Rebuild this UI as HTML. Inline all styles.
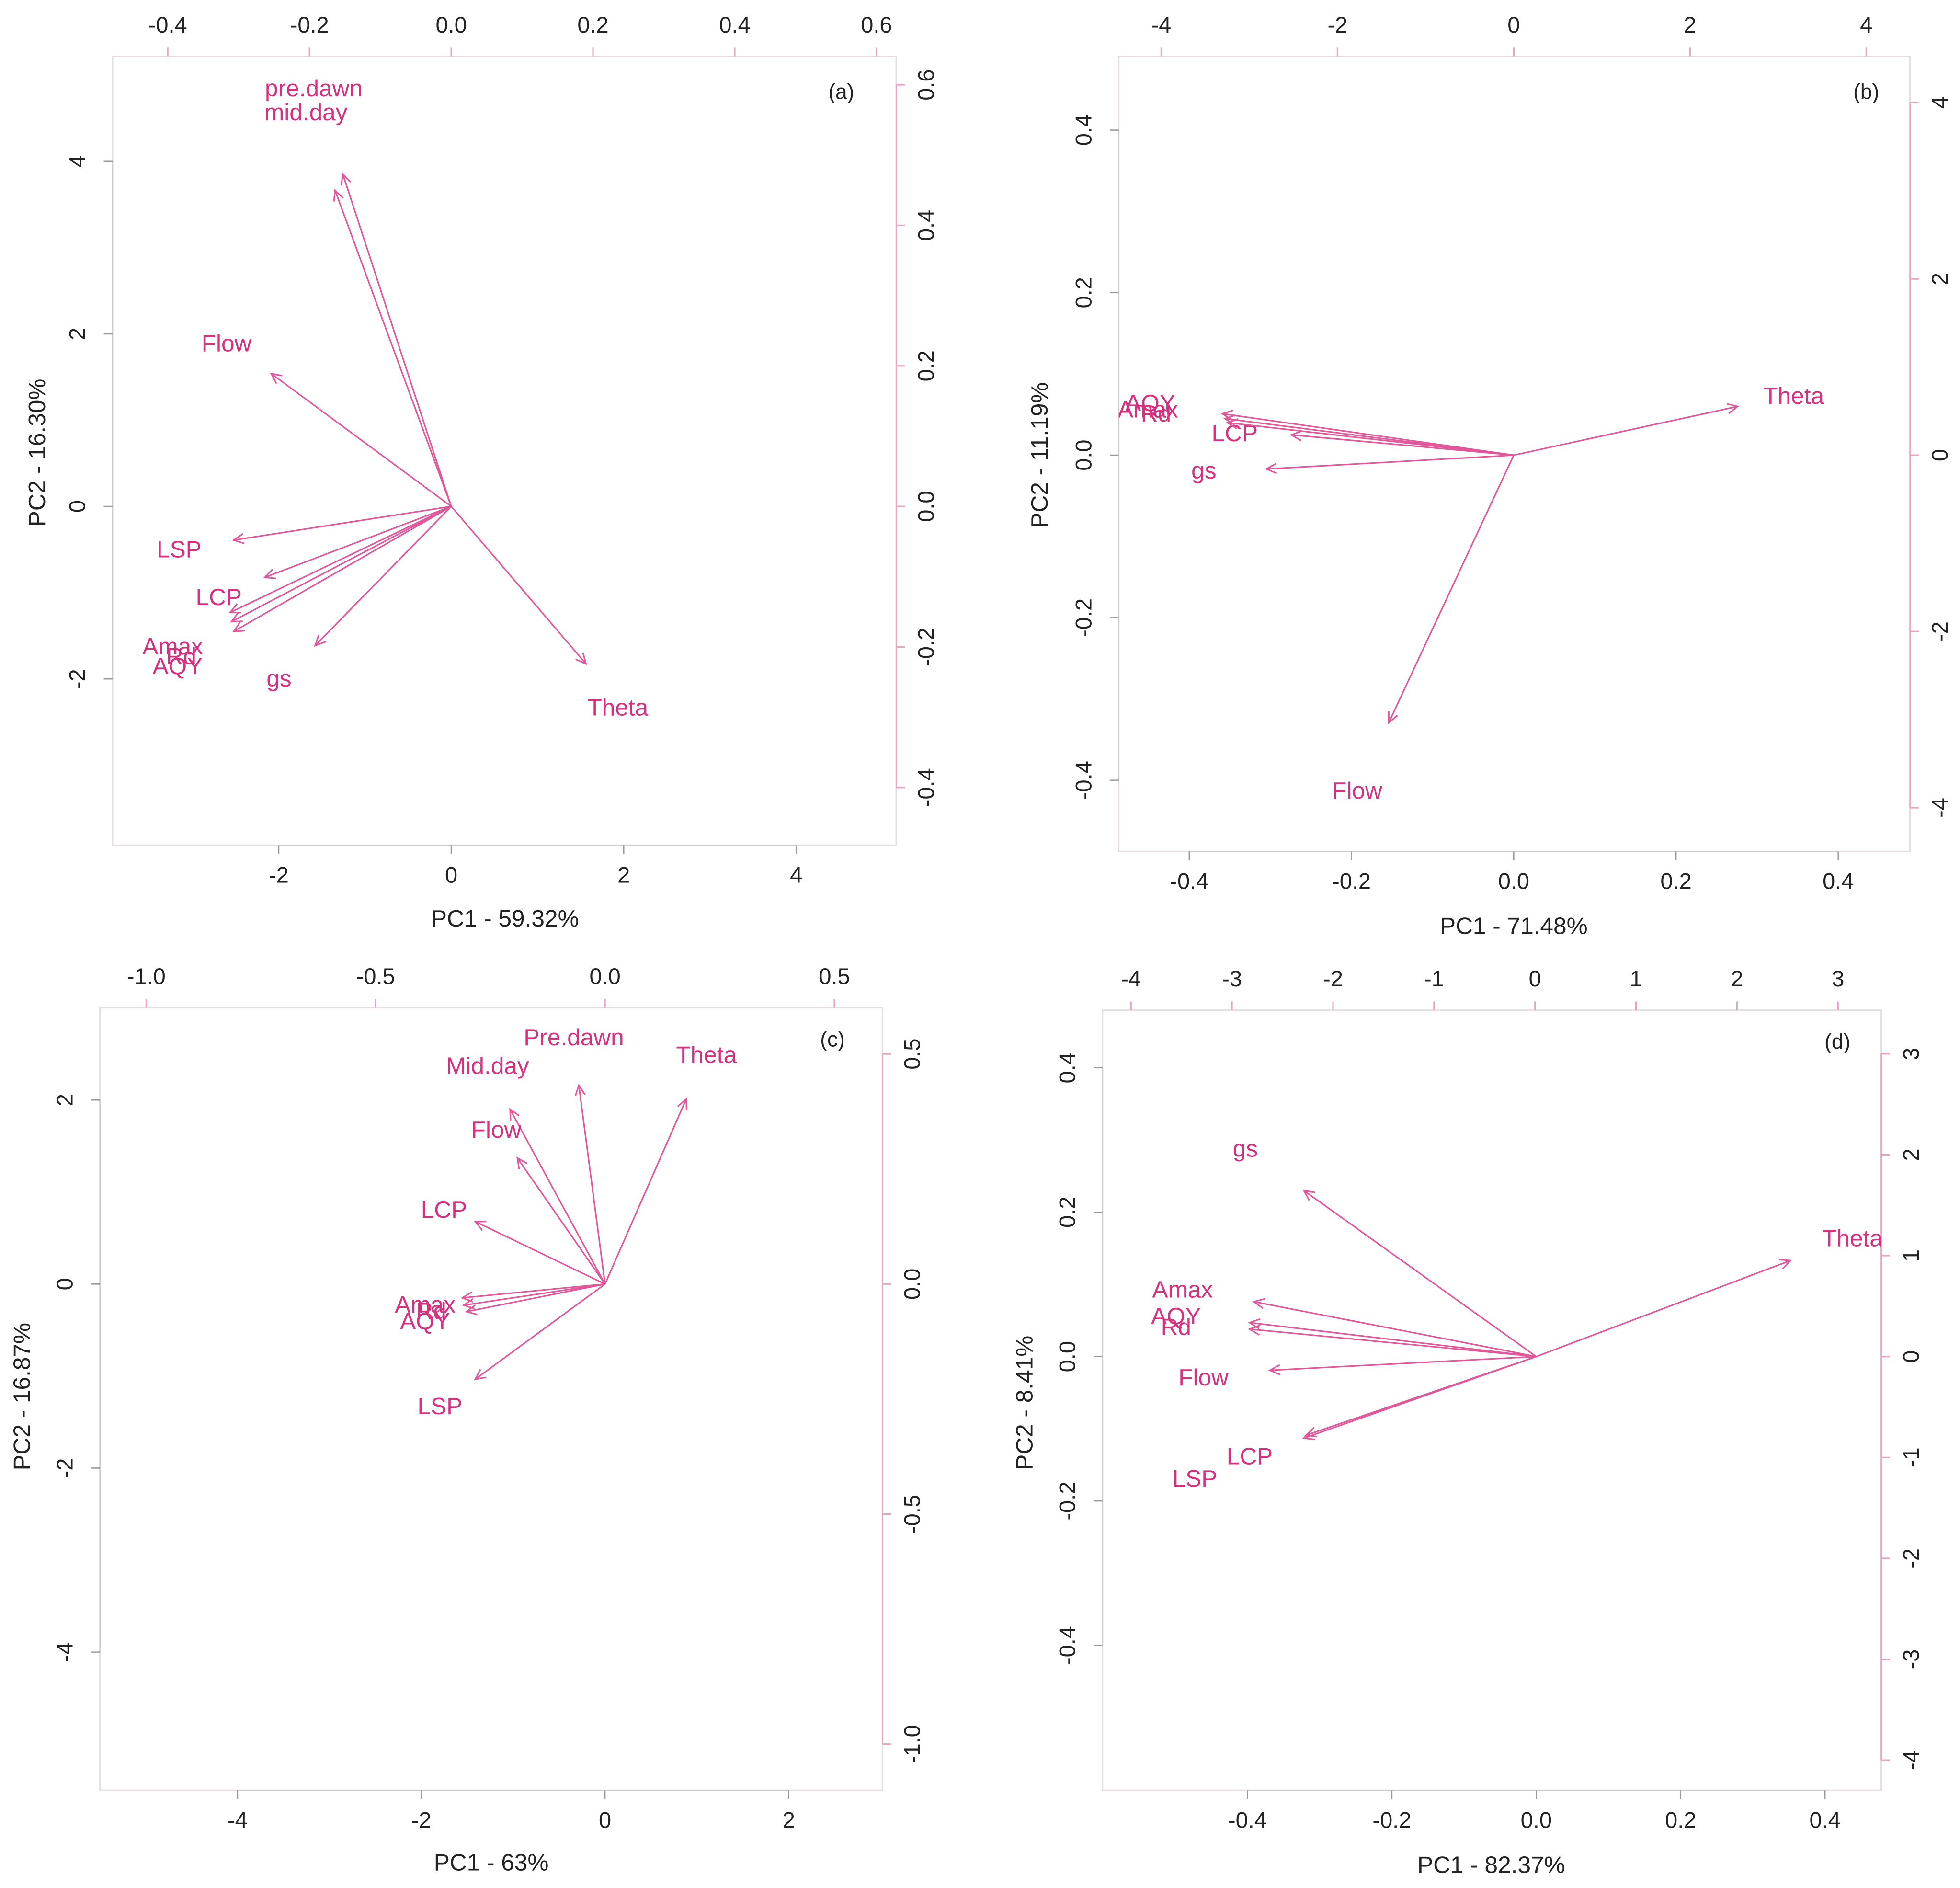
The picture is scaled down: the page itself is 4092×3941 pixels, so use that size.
<!DOCTYPE html>
<html><head><meta charset="utf-8"><style>
html,body{margin:0;padding:0;background:#fff}
svg{display:block}
text{font-family:"Liberation Sans",sans-serif}
</style></head><body>
<svg id="chart" xmlns="http://www.w3.org/2000/svg" width="4092" height="3941" viewBox="0 0 1568 1510"></svg>
<script>
// ---- data ----
const aNames=["pre.dawn","mid.day","Flow","LSP","LCP","Amax","Rd","AQY","gs","Theta"];
const aX=[-0.153,-0.164,-0.254,-0.307,-0.263,-0.312,-0.310,-0.307,-0.192,0.190];
const aY=[0.473,0.450,0.189,-0.048,-0.101,-0.151,-0.164,-0.178,-0.198,-0.224];
const aLabX=[-0.194,-0.205,-0.317,-0.384,-0.328,-0.393,-0.381,-0.386,-0.243,0.235];
const aLabY=[0.596,0.562,0.233,-0.060,-0.128,-0.198,-0.212,-0.226,-0.244,-0.285];
const bNames=["Theta","Flow","gs","LCP","AQY","Rd","Amax"];
const bX=[0.276,-0.154,-0.305,-0.274,-0.359,-0.356,-0.353];
const bY=[0.060,-0.329,-0.017,0.025,0.051,0.045,0.040];
const bLabX=[0.345,-0.193,-0.382,-0.344,-0.448,-0.441,-0.451];
const bLabY=[0.074,-0.412,-0.018,0.028,0.065,0.052,0.057];
const cNames=["Theta","Pre.dawn","Mid.day","Flow","LCP","Amax","Rd","AQY","LSP"];
const cX=[0.177,-0.057,-0.207,-0.191,-0.283,-0.311,-0.308,-0.302,-0.283];
const cY=[0.402,0.432,0.380,0.274,0.136,-0.030,-0.046,-0.060,-0.207];
const cLabX=[0.221,-0.068,-0.256,-0.237,-0.351,-0.392,-0.379,-0.392,-0.360];
const cLabY=[0.500,0.538,0.476,0.337,0.163,-0.043,-0.057,-0.079,-0.264];
const dNames=["gs","Theta","Amax","AQY","Rd","Flow","LCP","LSP"];
const dX=[-0.322,0.352,-0.391,-0.397,-0.397,-0.369,-0.319,-0.322];
const dY=[0.230,0.133,0.076,0.047,0.038,-0.019,-0.109,-0.113];
const dLabX=[-0.403,0.438,-0.490,-0.499,-0.499,-0.461,-0.397,-0.473];
const dLabY=[0.289,0.165,0.094,0.057,0.042,-0.028,-0.137,-0.168];
const aBottomTicks=[-2,0,2,4], aLeftTicks=[-2,0,2,4], aTopTicks=[-0.4,-0.2,0.0,0.2,0.4,0.6], aRightTicks=[-0.4,-0.2,0.0,0.2,0.4,0.6];
const bBottomTicks=[-0.4,-0.2,0.0,0.2,0.4], bLeftTicks=[-0.4,-0.2,0.0,0.2,0.4], bTopTicks=[-4,-2,0,2,4], bRightTicks=[-4,-2,0,2,4];
const cBottomTicks=[-4,-2,0,2], cLeftTicks=[-4,-2,0,2], cTopTicks=[-1.0,-0.5,0.0,0.5], cRightTicks=[-1.0,-0.5,0.0,0.5];
const dBottomTicks=[-0.4,-0.2,0.0,0.2,0.4], dLeftTicks=[-0.4,-0.2,0.0,0.2,0.4], dTopTicks=[-4,-3,-2,-1,0,1,2,3], dRightTicks=[-4,-3,-2,-1,0,1,2,3];

const NS="http://www.w3.org/2000/svg";
const svg=document.getElementById('chart');
const PINK="#d6307f", ARR="#e0579a", BOX="#e6dde1", TICKP="#e8a3c4";
function mk(t,at,parent){const e=document.createElementNS(NS,t);for(const k in at)e.setAttribute(k,at[k]);(parent||svg).appendChild(e);return e;}
function fmt(v,dec){return v.toFixed(dec);}

const panels=[
 {id:'a',box:[90,45,717,676],bx:[361,69],ly:[405,69],tx:[361,567],ry:[405,562],arrowUnits:'tr',
  names:aNames,X:aX,Y:aY,LX:aLabX,LY:aLabY,bt:aBottomTicks,lt:aLeftTicks,tt:aTopTicks,rt:aRightTicks,bd:0,ld:0,td:1,rd:1,
  xl:"PC1 - 59.32%",yl:"PC2 - 16.30%",xlp:[404,735],ylp:[30,362],tag:"(a)",tagp:[673,73]},
 {id:'b',box:[895,45,1528,681],bx:[1211,649],ly:[364,650],tx:[1211,70.5],ry:[364,70.5],arrowUnits:'bl',
  names:bNames,X:bX,Y:bY,LX:bLabX,LY:bLabY,bt:bBottomTicks,lt:bLeftTicks,tt:bTopTicks,rt:bRightTicks,bd:1,ld:1,td:0,rd:0,
  xl:"PC1 - 71.48%",yl:"PC2 - 11.19%",xlp:[1211,741],ylp:[832,364],tag:"(b)",tagp:[1493,73]},
 {id:'c',box:[80,806,706,1432],bx:[484,73.5],ly:[1027,73.6],tx:[484,367],ry:[1027,368],arrowUnits:'tr',
  names:cNames,X:cX,Y:cY,LX:cLabX,LY:cLabY,bt:cBottomTicks,lt:cLeftTicks,tt:cTopTicks,rt:cRightTicks,bd:0,ld:0,td:1,rd:1,
  xl:"PC1 - 63%",yl:"PC2 - 16.87%",xlp:[393,1490],ylp:[18,1117],tag:"(c)",tagp:[666,831]},
 {id:'d',box:[882,808,1505,1432],bx:[1229,577.5],ly:[1085,577.5],tx:[1228,80.8],ry:[1085,80.7],arrowUnits:'bl',
  names:dNames,X:dX,Y:dY,LX:dLabX,LY:dLabY,bt:dBottomTicks,lt:dLeftTicks,tt:dTopTicks,rt:dRightTicks,bd:1,ld:1,td:0,rd:0,
  xl:"PC1 - 82.37%",yl:"PC2 - 8.41%",xlp:[1193,1492],ylp:[820,1122],tag:"(d)",tagp:[1470,833]}
];

panels.forEach(p=>{
  const g=mk('g',{});
  
  
  const [x0,y0,x1,y1]=p.box;
  const bxs=v=>p.bx[0]+v*p.bx[1], lys=v=>p.ly[0]-v*p.ly[1];
  const txs=v=>p.tx[0]+v*p.tx[1], rys=v=>p.ry[0]-v*p.ry[1];
  const cp=mk('clipPath',{id:'clip'+p.id},g); mk('rect',{x:x0,y:y0,width:x1-x0,height:y1-y0},cp);
  const box=mk('rect',{x:x0,y:y0,width:x1-x0,height:y1-y0,fill:'none',stroke:BOX,'stroke-width':1.2},g);
  
  
  // bottom axis
  const ba=mk('g',{},g);
  
  
  mk('line',{x1:bxs(p.bt[0]),x2:bxs(p.bt[p.bt.length-1]),y1:y1,y2:y1,stroke:'#ccc','stroke-width':1},ba);
  p.bt.forEach(v=>{const x=bxs(v);mk('line',{x1:x,x2:x,y1:y1,y2:y1+7,stroke:'#999'},ba);
    const t=mk('text',{x:x,y:y1+30,'text-anchor':'middle','font-size':18,fill:'#222'},ba);t.textContent=fmt(v,p.bd);});
  // left axis
  const la=mk('g',{},g);
  
  
  mk('line',{x1:x0,x2:x0,y1:lys(p.lt[0]),y2:lys(p.lt[p.lt.length-1]),stroke:'#ccc'},la);
  p.lt.forEach(v=>{const y=lys(v);mk('line',{x1:x0-7,x2:x0,y1:y,y2:y,stroke:'#999'},la);
    const t=mk('text',{x:0,y:0,transform:`translate(${x0-22},${y}) rotate(-90)`,'text-anchor':'middle','font-size':18,fill:'#222'},la);t.textContent=fmt(v,p.ld);});
  // top axis
  const ta=mk('g',{},g);
  
  
  p.tt.forEach(v=>{const x=txs(v);mk('line',{x1:x,x2:x,y1:y0,y2:y0-7,stroke:TICKP,'stroke-width':1.2},ta);
    const t=mk('text',{x:x,y:y0-19,'text-anchor':'middle','font-size':18,fill:'#222'},ta);t.textContent=fmt(v,p.td);});
  // right axis
  const ra=mk('g',{},g);
  
  
  mk('line',{x1:x1,x2:x1,y1:rys(p.rt[0]),y2:rys(p.rt[p.rt.length-1]),stroke:TICKP},ra);
  p.rt.forEach(v=>{const y=rys(v);mk('line',{x1:x1,x2:x1+7,y1:y,y2:y,stroke:TICKP,'stroke-width':1.2},ra);
    const t=mk('text',{x:0,y:0,transform:`translate(${x1+30},${y}) rotate(-90)`,'text-anchor':'middle','font-size':18,fill:'#222'},ra);t.textContent=fmt(v,p.rd);});
  // axis titles
  const xt=mk('text',{x:p.xlp[0],y:p.xlp[1]+6,'text-anchor':'middle','font-size':19,fill:'#222'},g);xt.textContent=p.xl;
  
  
  const yt=mk('text',{x:0,y:0,transform:`translate(${p.ylp[0]+6},${p.ylp[1]}) rotate(-90)`,'text-anchor':'middle','font-size':19,fill:'#222'},g);yt.textContent=p.yl;
  
  
  const tg=mk('text',{x:p.tagp[0],y:p.tagp[1]+6,'text-anchor':'middle','font-size':17,fill:'#222'},g);tg.textContent=p.tag;
  
  
  // arrows
  const ax=p.arrowUnits==='tr'?txs:bxs, ay=p.arrowUnits==='tr'?rys:lys;
  const ox=ax(0), oy=ay(0);
  const ag=mk('g',{'clip-path':`url(#clip${p.id})`},g);
  p.names.forEach((n,i)=>{
    const ex=ax(p.X[i]), ey=ay(p.Y[i]);
    const ln=mk('line',{x1:ox,y1:oy,x2:ex,y2:ey,stroke:ARR,'stroke-width':1.2},ag);
    
    
    const ang=Math.atan2(ey-oy,ex-ox), L=9, s=0.45;
    const hx1=ex-L*Math.cos(ang-s), hy1=ey-L*Math.sin(ang-s), hx2=ex-L*Math.cos(ang+s), hy2=ey-L*Math.sin(ang+s);
    const hd=mk('polyline',{points:`${hx1},${hy1} ${ex},${ey} ${hx2},${hy2}`,fill:'none',stroke:ARR,'stroke-width':1.2},ag);
    
    
    const t=mk('text',{x:ax(p.LX[i]),y:ay(p.LY[i])+7,'text-anchor':'middle','font-size':19,fill:PINK},ag);t.textContent=n;
    
    
  });
});
</script>
</body></html>
